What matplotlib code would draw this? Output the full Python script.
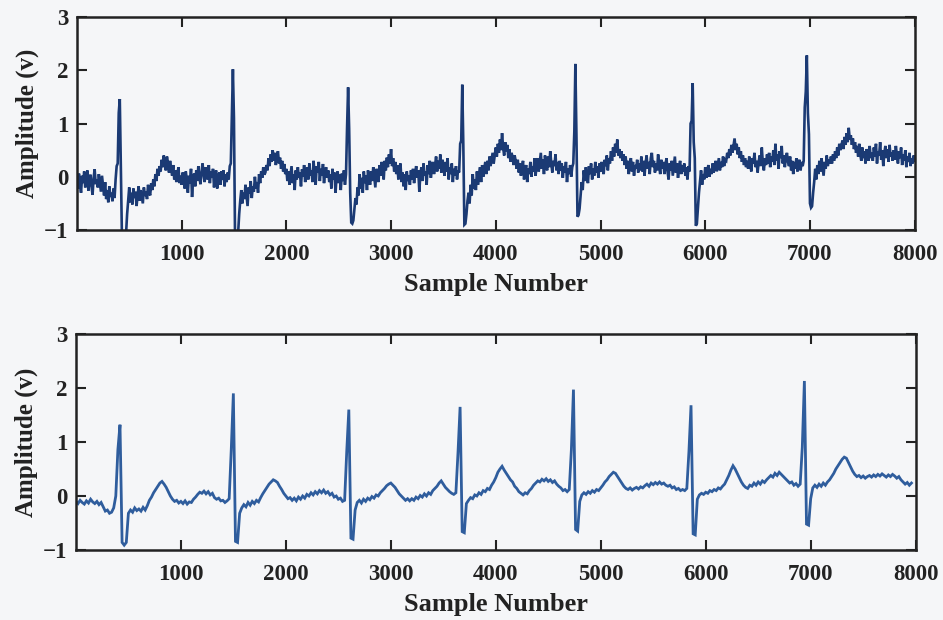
import numpy as np
import matplotlib
matplotlib.use("Agg")
import matplotlib.pyplot as plt

n_samples = 8000

# Raw recording (noisy ECG), one reading every 10 samples, amplitude in volts
raw_step = 10
raw_ecg = [
    -0.02, -0.22, 0.06, -0.15, -0.30, 0.02, -0.12, 0.10, -0.20, -0.05, 0.12, -0.26, -0.08, 0.04, -0.18, -0.34, -0.02, 0.14, -0.14, -0.06,
    -0.20, 0.05, -0.12, -0.28, 0.02, -0.16, -0.35, -0.10, -0.42, -0.25, -0.48, -0.18, -0.38, -0.30, -0.46, -0.22, -0.40, -0.05, 0.20, 0.25,
    1.20, 1.46, 0.20, -1.08, -1.10, -1.12, -1.08, -1.06, -0.70, -0.45, -0.20, -0.48, -0.30, -0.52, -0.22, -0.40, -0.28, -0.55, -0.35, -0.18,
    -0.45, -0.25, -0.38, -0.50, -0.20, -0.36, -0.28, -0.42, -0.15, -0.30, -0.35, -0.12, -0.25, -0.05, -0.18, 0.05, -0.08, 0.15, 0.02, 0.20,
    0.10, 0.32, 0.18, 0.40, 0.22, 0.12, 0.38, 0.26, 0.08, 0.30, 0.15, 0.02, 0.22, -0.05, 0.12, -0.10, 0.05, 0.18, -0.12, 0.02,
    -0.15, 0.08, -0.08, -0.22, 0.10, -0.05, -0.30, 0.02, -0.12, 0.15, -0.38, -0.04, 0.06, -0.18, 0.12, -0.08, 0.20, 0.00, -0.14, 0.08,
    0.25, 0.05, -0.10, 0.18, 0.02, -0.05, 0.22, -0.12, 0.10, -0.02, 0.15, -0.20, 0.05, 0.12, -0.22, 0.00, 0.08, -0.15, 0.10, -0.06,
    0.12, -0.18, 0.05, -0.10, 0.08, -0.05, 0.20, 0.25, 1.15, 2.02, 1.10, -1.06, -1.10, -1.12, -1.05, -0.70, -0.45, -0.25, -0.50, -0.30,
    -0.42, -0.15, -0.35, -0.55, -0.20, -0.32, -0.08, -0.40, -0.18, -0.28, 0.00, -0.22, -0.10, -0.30, 0.05, -0.12, 0.10, -0.02, 0.18, 0.04,
    0.08, 0.22, 0.12, 0.35, 0.20, 0.42, 0.28, 0.50, 0.30, 0.45, 0.22, 0.38, 0.48, 0.25, 0.36, 0.15, 0.30, 0.10, 0.24, 0.05,
    0.15, -0.08, 0.10, -0.15, 0.02, 0.20, -0.12, 0.05, -0.25, 0.12, -0.05, 0.18, -0.02, 0.08, -0.18, 0.14, 0.00, 0.22, -0.10, 0.06,
    0.18, -0.05, 0.25, 0.02, 0.12, -0.10, 0.30, 0.05, -0.15, 0.20, 0.08, 0.28, -0.08, 0.15, 0.02, 0.24, -0.12, 0.10, 0.18, -0.02,
    0.12, -0.10, 0.05, -0.22, 0.15, -0.05, 0.08, -0.30, 0.02, 0.10, -0.12, 0.04, -0.25, 0.06, -0.08, 0.12, -0.15, 0.05, 0.92, 1.68,
    0.90, -0.30, -0.86, -0.88, -0.82, -0.60, -0.40, -0.52, -0.20, -0.35, 0.05, -0.22, -0.02, -0.30, 0.10, -0.12, 0.02, -0.25, 0.12, -0.05,
    -0.15, 0.10, -0.08, 0.18, -0.02, -0.20, 0.15, 0.05, -0.10, 0.22, 0.02, 0.28, 0.10, -0.05, 0.30, 0.12, 0.36, 0.18, 0.42, 0.25,
    0.52, 0.20, 0.35, 0.10, 0.28, 0.05, 0.22, -0.05, 0.15, 0.25, -0.10, 0.08, -0.18, 0.05, -0.25, 0.10, -0.08, 0.02, -0.15, 0.12,
    -0.05, 0.15, -0.12, 0.08, 0.20, -0.02, 0.12, -0.28, 0.05, 0.18, -0.08, 0.25, 0.02, 0.10, -0.15, 0.22, 0.05, 0.30, -0.02, 0.15,
    0.28, 0.05, 0.20, 0.38, 0.10, 0.30, 0.15, 0.42, 0.08, 0.32, 0.20, 0.02, 0.28, 0.10, 0.35, -0.05, 0.18, 0.05, 0.25, -0.10,
    0.15, 0.02, 0.20, -0.05, 0.12, 0.08, 0.62, 0.68, 1.73, 0.60, -0.90, -0.88, -0.70, -0.45, -0.30, -0.50, -0.15, -0.35, 0.05, -0.22,
    -0.05, -0.25, 0.10, -0.15, 0.05, 0.18, -0.10, 0.22, 0.00, 0.15, 0.28, 0.05, 0.30, 0.12, 0.38, 0.20, 0.32, 0.45, 0.25, 0.40,
    0.55, 0.38, 0.62, 0.45, 0.70, 0.50, 0.82, 0.55, 0.40, 0.65, 0.48, 0.60, 0.35, 0.52, 0.28, 0.45, 0.38, 0.22, 0.40, 0.30,
    0.15, 0.32, 0.08, 0.25, 0.02, 0.18, 0.30, -0.05, 0.12, 0.22, -0.10, 0.15, 0.05, 0.28, 0.00, 0.20, 0.10, 0.35, 0.02, 0.22,
    0.35, 0.10, 0.28, 0.45, 0.15, 0.32, 0.05, 0.40, 0.22, 0.12, 0.38, 0.18, 0.48, 0.25, 0.08, 0.30, 0.20, 0.42, 0.12, 0.28,
    0.05, 0.30, 0.12, 0.25, -0.02, 0.20, 0.08, 0.28, -0.10, 0.15, 0.05, 0.22, 0.00, 0.18, 0.25, 0.85, 2.12, 0.80, -0.75, -0.72,
    -0.60, -0.35, -0.10, -0.25, 0.12, -0.08, 0.18, 0.00, -0.12, 0.20, 0.05, 0.25, -0.05, 0.15, 0.02, 0.28, 0.08, 0.20, -0.02, 0.25,
    0.10, 0.28, 0.15, 0.05, 0.32, 0.20, 0.40, 0.12, 0.35, 0.25, 0.48, 0.30, 0.55, 0.38, 0.62, 0.45, 0.70, 0.40, 0.52, 0.35,
    0.48, 0.30, 0.42, 0.22, 0.38, 0.15, 0.30, 0.05, 0.25, 0.35, 0.10, 0.28, 0.02, 0.22, 0.15, 0.32, 0.08, 0.25, 0.12, 0.38,
    0.10, 0.30, 0.02, 0.25, 0.40, 0.15, 0.28, 0.05, 0.35, 0.45, 0.18, 0.30, 0.08, 0.25, 0.12, 0.42, 0.20, 0.05, 0.32, 0.15,
    0.28, 0.05, 0.22, 0.35, 0.10, -0.05, 0.25, 0.12, 0.30, 0.02, 0.20, 0.38, 0.08, 0.25, -0.02, 0.18, 0.30, 0.05, 0.22, 0.10,
    0.25, 0.02, 0.18, -0.05, 0.20, 0.10, 1.00, 1.05, 1.76, 0.65, 0.35, -0.92, -0.88, -0.60, -0.30, -0.10, 0.12, -0.15, 0.05, -0.05,
    0.18, -0.02, 0.12, 0.22, 0.00, 0.15, 0.05, 0.25, 0.08, 0.18, 0.30, 0.10, 0.22, 0.35, 0.12, 0.28, 0.18, 0.38, 0.20, 0.32,
    0.30, 0.45, 0.35, 0.52, 0.40, 0.60, 0.45, 0.58, 0.72, 0.50, 0.62, 0.42, 0.55, 0.35, 0.48, 0.28, 0.40, 0.22, 0.35, 0.18,
    0.30, 0.15, 0.38, 0.22, 0.10, 0.35, 0.25, 0.45, 0.18, 0.30, 0.08, 0.28, 0.40, 0.20, 0.55, 0.25, 0.12, 0.35, 0.22, 0.42,
    0.25, 0.45, 0.18, 0.38, 0.28, 0.50, 0.22, 0.62, 0.30, 0.42, 0.15, 0.48, 0.35, 0.58, 0.25, 0.40, 0.18, 0.36, 0.45, 0.28,
    0.20, 0.38, 0.12, 0.30, 0.05, 0.28, 0.15, 0.35, 0.10, 0.25, 0.32, 0.12, 0.28, 0.20, 0.30, 1.30, 1.60, 2.28, 1.20, 0.80,
    -0.50, -0.58, -0.55, -0.30, -0.10, 0.15, -0.05, 0.22, 0.05, 0.30, 0.10, 0.35, 0.18, 0.02, 0.28, 0.15, 0.40, 0.20, 0.32, 0.25,
    0.38, 0.25, 0.42, 0.30, 0.48, 0.35, 0.55, 0.40, 0.62, 0.50, 0.58, 0.68, 0.52, 0.75, 0.60, 0.82, 0.65, 0.92, 0.70, 0.78,
    0.60, 0.72, 0.52, 0.65, 0.45, 0.58, 0.38, 0.62, 0.42, 0.30, 0.55, 0.35, 0.48, 0.25, 0.52, 0.40, 0.30, 0.58, 0.35, 0.45,
    0.30, 0.55, 0.38, 0.62, 0.25, 0.48, 0.40, 0.65, 0.32, 0.50, 0.20, 0.45, 0.58, 0.35, 0.52, 0.28, 0.60, 0.38, 0.46, 0.30,
    0.50, 0.32, 0.58, 0.40, 0.25, 0.48, 0.35, 0.55, 0.22, 0.42, 0.30, 0.50, 0.18, 0.38, 0.28, 0.45, 0.20, 0.35, 0.25, 0.40,
    0.30,
]

# Filtered recording (denoised ECG), one reading every 20 samples, amplitude in volts
filtered_step = 20
filtered_ecg = [
    -0.10, -0.14, -0.08, -0.12, -0.15, -0.09, -0.13, -0.06, -0.11, -0.14,
    -0.10, -0.16, -0.12, -0.20, -0.28, -0.26, -0.32, -0.30, -0.22, 0.00,
    0.86, 1.32, -0.86, -0.91, -0.86, -0.32, -0.26, -0.30, -0.22, -0.27,
    -0.24, -0.28, -0.21, -0.26, -0.18, -0.08, -0.02, 0.06, 0.12, 0.18,
    0.24, 0.27, 0.22, 0.16, 0.08, 0.00, -0.06, -0.10, -0.08, -0.13,
    -0.10, -0.14, -0.09, -0.15, -0.11, -0.12, -0.06, -0.02, 0.03, 0.07,
    0.05, 0.09, 0.04, 0.08, 0.02, 0.05, -0.03, -0.06, -0.04, -0.09,
    -0.08, -0.12, -0.09, -0.05, 0.86, 1.90, -0.84, -0.86, -0.32, -0.22,
    -0.16, -0.20, -0.12, -0.17, -0.10, -0.14, -0.08, -0.11, -0.03, 0.04,
    0.10, 0.16, 0.22, 0.26, 0.30, 0.28, 0.25, 0.18, 0.12, 0.05,
    0.00, -0.05, -0.03, -0.08, -0.04, -0.09, -0.02, -0.06, 0.00, -0.04,
    0.03, 0.00, 0.06, 0.02, 0.08, 0.04, 0.10, 0.06, 0.11, 0.05,
    0.08, 0.02, 0.05, -0.02, 0.00, -0.06, -0.04, -0.10, -0.08, 0.82,
    1.60, -0.78, -0.80, -0.26, -0.12, -0.08, -0.13, -0.06, -0.10, -0.04,
    -0.07, -0.01, -0.04, 0.02, 0.00, 0.06, 0.10, 0.14, 0.19, 0.22,
    0.24, 0.20, 0.16, 0.10, 0.04, 0.00, -0.04, -0.08, -0.05, -0.09,
    -0.05, -0.08, -0.02, -0.05, 0.01, -0.02, 0.04, 0.00, 0.06, 0.03,
    0.10, 0.14, 0.18, 0.24, 0.28, 0.22, 0.16, 0.12, 0.08, 0.05,
    0.03, 0.06, 0.80, 1.65, -0.66, -0.68, -0.14, -0.08, -0.03, -0.05,
    0.02, 0.00, 0.06, 0.03, 0.10, 0.08, 0.14, 0.12, 0.20, 0.26,
    0.34, 0.44, 0.50, 0.55, 0.48, 0.42, 0.36, 0.30, 0.26, 0.18,
    0.14, 0.08, 0.05, 0.02, 0.06, 0.04, 0.10, 0.14, 0.20, 0.24,
    0.28, 0.26, 0.31, 0.28, 0.32, 0.27, 0.30, 0.25, 0.28, 0.22,
    0.18, 0.15, 0.10, 0.12, 0.08, 0.12, 0.85, 1.97, -0.62, -0.65,
    -0.10, 0.02, 0.06, 0.03, 0.08, 0.05, 0.10, 0.07, 0.12, 0.10,
    0.15, 0.20, 0.26, 0.30, 0.36, 0.40, 0.44, 0.42, 0.36, 0.30,
    0.24, 0.18, 0.14, 0.12, 0.15, 0.11, 0.14, 0.16, 0.13, 0.17,
    0.15, 0.19, 0.22, 0.18, 0.24, 0.21, 0.25, 0.22, 0.26, 0.22,
    0.24, 0.20, 0.18, 0.20, 0.15, 0.17, 0.12, 0.14, 0.10, 0.12,
    0.10, 0.14, 0.82, 1.68, -0.70, -0.72, -0.06, 0.02, 0.05, 0.03,
    0.07, 0.05, 0.10, 0.08, 0.12, 0.10, 0.15, 0.13, 0.18, 0.22,
    0.30, 0.38, 0.48, 0.56, 0.50, 0.42, 0.34, 0.26, 0.20, 0.16,
    0.14, 0.20, 0.18, 0.24, 0.20, 0.26, 0.22, 0.28, 0.25, 0.30,
    0.34, 0.38, 0.35, 0.42, 0.38, 0.44, 0.40, 0.36, 0.32, 0.28,
    0.24, 0.26, 0.20, 0.23, 0.18, 0.22, 0.90, 2.13, -0.52, -0.54,
    -0.05, 0.15, 0.20, 0.16, 0.22, 0.18, 0.24, 0.20, 0.26, 0.30,
    0.36, 0.42, 0.50, 0.56, 0.62, 0.68, 0.72, 0.70, 0.62, 0.54,
    0.46, 0.40, 0.36, 0.38, 0.34, 0.37, 0.33, 0.36, 0.38, 0.35,
    0.39, 0.36, 0.40, 0.37, 0.41, 0.38, 0.35, 0.39, 0.36, 0.40,
    0.37, 0.33, 0.36, 0.30, 0.26, 0.22, 0.25, 0.20, 0.24,
]

x_ticks = [1000, 2000, 3000, 4000, 5000, 6000, 7000, 8000]
y_ticks = [-1, 0, 1, 2, 3]
x_label = "Sample Number"
y_label = "Amplitude (v)"

raw_color = "#1b3a74"
filtered_color = "#2f5d9d"
bg_color = "#f5f6f8"
ink = "#222222"

plt.rcParams["font.family"] = ["Liberation Serif", "DejaVu Serif"]
plt.rcParams["font.weight"] = "bold"
plt.rcParams["axes.unicode_minus"] = True

fig = plt.figure(figsize=(9.43, 6.2), dpi=100, facecolor=bg_color)

panels = [
    (raw_ecg, raw_step, raw_color, 1.9, [0.0815, 0.629, 0.8885, 0.3435]),
    (filtered_ecg, filtered_step, filtered_color, 2.0, [0.0805, 0.1129, 0.8905, 0.3484]),
]

for values, step, color, lw, rect in panels:
    ax = fig.add_axes(rect)
    ax.set_facecolor(bg_color)
    samples = np.arange(len(values)) * step
    ax.plot(samples, values, color=color, linewidth=lw, solid_joinstyle="miter")
    ax.set_xlim(0, n_samples)
    ax.set_ylim(-1, 3)
    ax.set_xticks(x_ticks)
    ax.set_yticks(y_ticks)
    ax.tick_params(direction="in", length=7, width=1.5, top=True, right=True,
                   labelsize=16.5, colors=ink)
    ax.tick_params(axis="x", pad=10)
    ax.tick_params(axis="y", pad=6)
    for lab in ax.get_xticklabels() + ax.get_yticklabels():
        lab.set_fontweight("bold")
    for sp in ax.spines.values():
        sp.set_linewidth(1.8)
        sp.set_color(ink)
    ax.set_xlabel(x_label, fontsize=19, fontweight="bold", labelpad=6, color=ink)
    ax.set_ylabel(y_label, fontsize=18, fontweight="bold", labelpad=4, color=ink)

fig.savefig("out.png", dpi=100, facecolor=bg_color)
